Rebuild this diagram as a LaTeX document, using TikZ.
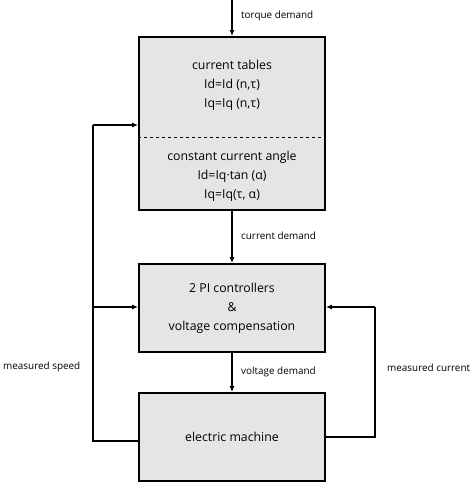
\documentclass[tikz,border=0pt]{standalone}
\usepackage{fontspec}
\setmainfont{Open Sans}
\usetikzlibrary{positioning, arrows.meta, calc}

\begin{document}
\begin{tikzpicture}[x=1pt, y=-1pt,
    block/.style={draw, line width=1.8pt, fill=black!10, minimum width=186pt},
    boxtext/.style={align=center, font=\fontsize{12.3}{19}\selectfont},
    lbl/.style={font=\fontsize{9.9}{11}\selectfont, inner sep=0pt},
    flow/.style={line width=1.4pt, -{Latex[length=6pt, width=5pt]}}]
        \useasboundingbox (0,0) rectangle (470,485);

        % Blocks
        \node[block, minimum height=173pt] (tables) at (232,123.5) {};
        \node[block, minimum height=88pt] (pi) at (232,308) {};
        \node[block, minimum height=88pt] (machine) at (232,437) {};

        \node[boxtext] (tabtext) at (232,85) {current tables\\Id=Id (n,τ)\\Iq=Iq (n,τ)};
        \node[boxtext] (angletext) at (232,176) {constant current angle\\Id=Iq·tan (α)\\Iq=Iq(τ, α)};
        \node[boxtext] (pitext) at (232,308) {2 PI controllers\\\&\\voltage compensation};
        \node[boxtext] (machinetext) at (232,437) {electric machine};

        % Dashed separator
        \draw[dashed, line width=0.6pt] ($(tables.west)+(0,13.5)$) -- ($(tables.east)+(0,13.5)$);

        % Forward path
        \coordinate (torque) at (232,0);
        \draw[flow] (torque) -- (tables.north);
        \draw[flow] (tables.south) -- (pi.north);
        \draw[flow] (pi.south) -- (machine.north);

        \node[lbl, anchor=west] (torquelbl) at (241,16) {torque demand};
        \node[lbl, anchor=west] (currentlbl) at (241,236) {current demand};
        \node[lbl, anchor=west] (voltagelbl) at (241,372) {voltage demand};

        % Speed feedback
        \coordinate (speedbot) at (93,441);
        \coordinate (speedtop) at (93,125);
        \coordinate (speedmid) at (93,307);
        \draw[line width=1.4pt] (machine.west |- speedbot) -- (speedbot) -- (speedtop);
        \draw[flow] (speedtop) -- (tables.west |- speedtop);
        \draw[flow] (speedmid) -- (pi.west |- speedmid);
        \node[lbl, anchor=west] (speedlbl) at (3,367) {measured speed};

        % Current feedback
        \coordinate (currbot) at (375,437);
        \coordinate (currtop) at (375,307);
        \draw[line width=1.4pt] (machine.east |- currbot) -- (currbot) -- (currtop);
        \draw[flow] (currtop) -- (pi.east |- currtop);
        \node[lbl, anchor=west] (currlbl) at (387,368) {measured current};
\end{tikzpicture}
\end{document}
